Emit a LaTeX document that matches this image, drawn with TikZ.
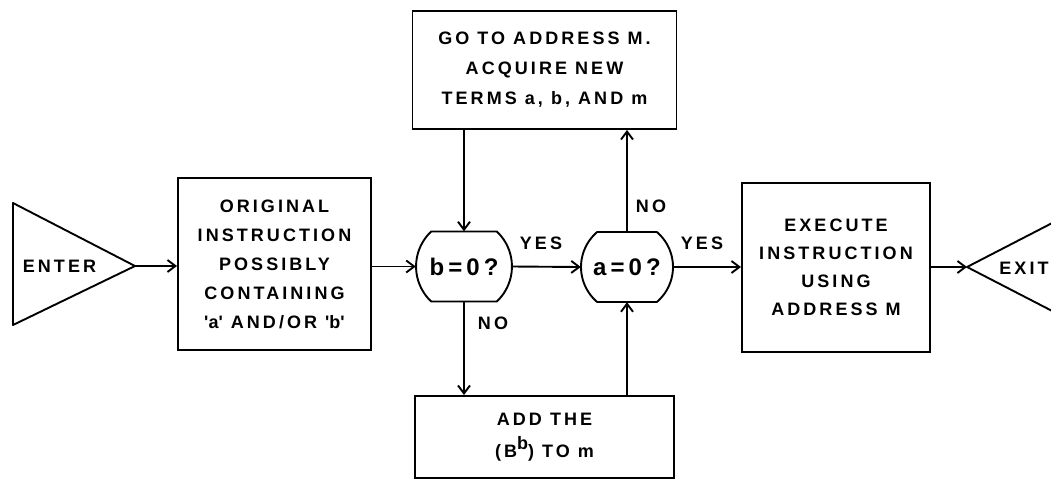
\documentclass[tikz,border=0pt]{standalone}
\usepackage{fontspec}
\newfontfamily\lettering[LetterSpace=17]{Liberation Sans}
\usetikzlibrary{arrows.meta,calc}
\newcommand\lsz[1]{\lettering\bfseries\fontsize{18}{#1}\selectfont}
\begin{document}
\begin{tikzpicture}[x=1pt,y=-1pt,
  box/.style={draw, line width=1.9pt, inner sep=0pt, align=center},
  lab/.style={inner sep=0pt, font=\lsz{22}},
  dec/.style={inner sep=0pt, minimum height=70pt, font=\lettering\bfseries\fontsize{24}{28}\selectfont},
  arr/.style={line width=1.9pt, -{Straight Barb[length=8pt,width=12pt]}},
  ln/.style={line width=1.9pt, line join=round}]
\useasboundingbox (0,0) rectangle (1051,480);
\clip (0,0) rectangle (1051,480);

% boxes
\node[box, font=\lsz{29}, minimum width=193pt, minimum height=172pt] (orig) at (274.5,264)
  {ORIGINAL\\INSTRUCTION\\POSSIBLY\\CONTAINING\\\textquotesingle a\textquotesingle{} AND/OR \textquotesingle b\textquotesingle};
\node[box, font=\lsz{30}, minimum width=264pt, minimum height=118pt] (top) at (544.5,70)
  {GO TO ADDRESS M.\\ACQUIRE NEW\\TERMS a, b, AND m};
\node[box, font=\lsz{32}, minimum width=259pt, minimum height=82pt] (bot) at (544.5,437)
  {ADD THE\\(B\raisebox{0.45em}{b}) TO m};
\node[box, font=\lsz{28}, minimum width=188pt, minimum height=169pt] (exec) at (836,267.5)
  {EXECUTE\\INSTRUCTION\\USING\\ADDRESS M};

% decisions
\node[dec, minimum width=96pt] (b0) at (464,266.5) {b=0?};
\node[dec, minimum width=92pt] (a0) at (627,267) {a=0?};
\draw[ln] ($(b0.center)+(-32.8,-35)$) -- ++(65.6,0) arc[start angle=-46.8, end angle=46.8, radius=48]
  -- ++(-65.6,0) arc[start angle=133.2, end angle=226.8, radius=48] -- cycle;
\draw[ln] ($(a0.center)+(-29.87,-35)$) -- ++(59.74,0) arc[start angle=-49.5, end angle=49.5, radius=46]
  -- ++(-59.74,0) arc[start angle=130.5, end angle=229.5, radius=46] -- cycle;

% enter / exit
\coordinate (enterTip) at (135,266);
\draw[ln] (13,203) -- (enterTip) -- (13,325) -- cycle;
\node[lab] (enter) at (59.5,266) {ENTER};
\coordinate (exitTip) at (967,267);
\draw[ln] (1089,204) -- (exitTip) -- (1089,330);
\node[lab] (exit) at (1024,268) {EXIT};

% connectors
\draw[arr] (enterTip) -- (enterTip -| orig.west);
\draw[arr] (b0.west -| orig.east) -- (b0.west);
\draw[arr] (b0.east) -- (a0.west);
\draw[arr] (a0.east) -- (a0.east -| exec.west);
\draw[arr] (exitTip -| exec.east) -- (exitTip);
\draw[arr] (top.south -| b0.center) -- (b0.north);
\draw[arr] (b0.south) -- (b0.south |- bot.north);
\draw[arr] (a0.north) -- (a0.north |- top.south);
\draw[arr] (bot.north -| a0.center) -- (a0.south);

% labels
\node[lab] (yes1) at (541,243) {YES};
\node[lab] (yes2) at (702,243) {YES};
\node[lab] (no1) at (651,206) {NO};
\node[lab] (no2) at (493,323) {NO};
\end{tikzpicture}
\end{document}
